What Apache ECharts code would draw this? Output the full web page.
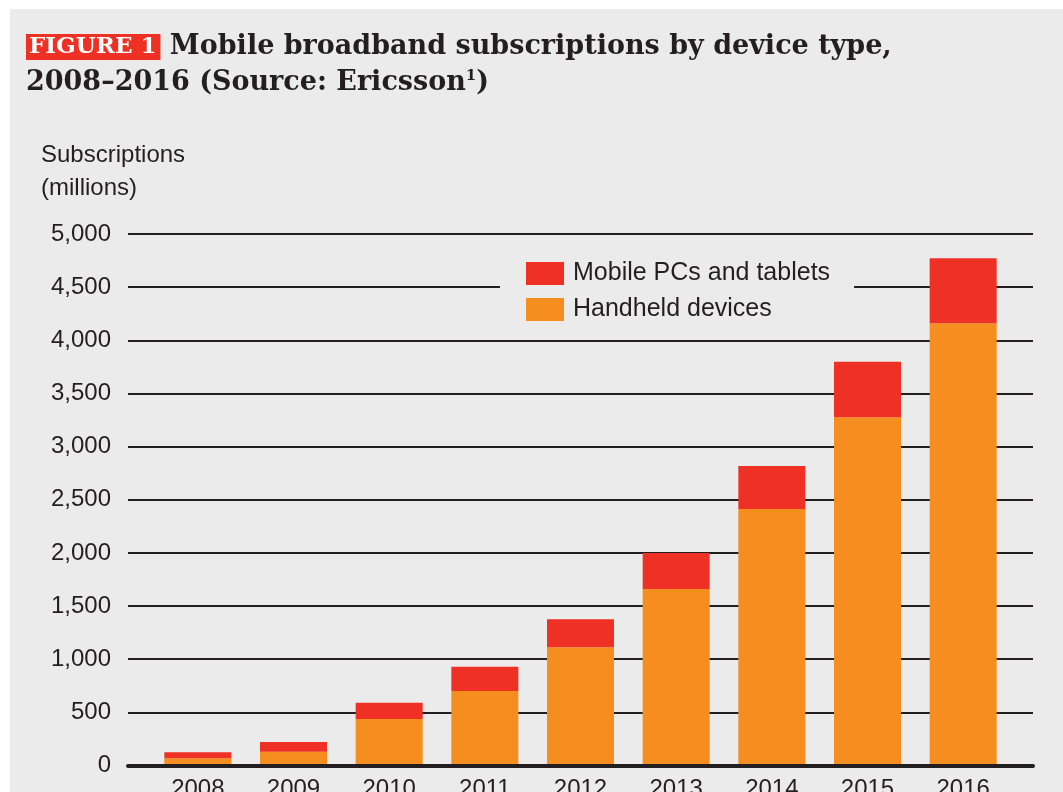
<!DOCTYPE html>
<html>
<head>
<meta charset="utf-8">
<script src="https://cdn.jsdelivr.net/npm/echarts@6/dist/echarts.min.js"></script>
<style>
  html, body { margin: 0; padding: 0; background: #ffffff; }
  #chart { position: absolute; left: 10px; top: 9px; width: 1053px; height: 783px; }
</style>
</head>
<body>
<div id="chart"></div>
<script>
// Mobile broadband subscriptions (millions), stacked by device type
const years = ['2008', '2009', '2010', '2011', '2012', '2013', '2014', '2015', '2016'];
const handheld = [68, 130, 437, 701, 1112, 1660, 2413, 3276, 4160];
const pcsTablets = [57, 91, 154, 228, 263, 339, 404, 523, 611];
const seriesNames = ['Mobile PCs and tablets', 'Handheld devices'];
const yMax = 5000;
const yStep = 500;

const INK = '#231f20';
const SANS = '"Liberation Sans", Arial, Helvetica, sans-serif';
const SLAB = '"DejaVu Serif", serif';

const chart = echarts.init(document.getElementById('chart'), null, { renderer: 'canvas' });

chart.setOption({
  backgroundColor: '#ebebeb',
  animation: false,
  title: [
    {
      left: 16,
      top: 20,
      padding: 0,
      text: '{tag|FIGURE 1} {main|Mobile broadband subscriptions by device type,}\n{main|2008\u20132016 (Source: Ericsson}{sup|1}{main|)}',
      textStyle: {
        fontFamily: SLAB,
        fontWeight: 'bold',
        fontSize: 27,
        color: INK,
        lineHeight: 36,
        rich: {
          tag: {
            fontFamily: SLAB,
            fontWeight: 'bold',
            fontSize: 23,
            color: '#ffffff',
            backgroundColor: '#ee3124',
            padding: [2, 4, 1, 3]
          },
          main: {
            fontFamily: SLAB,
            fontWeight: 'bold',
            fontSize: 27,
            color: INK
          },
          sup: {
            fontFamily: SLAB,
            fontWeight: 'bold',
            fontSize: 15,
            color: INK,
            padding: [0, 0, 14, 0]
          }
        }
      }
    },
    {
      left: 31,
      top: 130,
      padding: 0,
      text: 'Subscriptions\n(millions)',
      textStyle: {
        fontFamily: SANS,
        fontWeight: 'normal',
        fontSize: 24,
        lineHeight: 33,
        color: INK
      }
    }
  ],
  legend: {
    orient: 'vertical',
    left: 490,
    top: 239,
    padding: [13, 24, 10, 26],
    backgroundColor: '#ebebeb',
    itemWidth: 38,
    itemHeight: 23,
    itemGap: 11,
    icon: 'rect',
    data: seriesNames,
    textStyle: {
      fontFamily: SANS,
      fontSize: 25,
      lineHeight: 23,
      color: INK,
      padding: [0, 0, 0, 4]
    },
    z: 10
  },
  grid: [
    // full-width frame for the horizontal rules and baseline
    { left: 118, right: 30, top: 225, bottom: 26.5, outerBoundsMode: 'none', containLabel: false },
    // category band for the bars
    { left: 140, right: 52, top: 225, bottom: 26.5, outerBoundsMode: 'none', containLabel: false }
  ],
  xAxis: [
    {
      gridIndex: 0,
      type: 'value',
      min: 0,
      max: 1,
      z: 5,
      axisLine: { show: true, lineStyle: { color: INK, width: 4 } },
      axisTick: { show: false },
      axisLabel: { show: false },
      splitLine: { show: false }
    },
    {
      gridIndex: 1,
      type: 'category',
      data: years,
      axisLine: { show: false },
      axisTick: { show: false },
      axisLabel: {
        margin: 12,
        fontFamily: SANS,
        fontSize: 24,
        color: INK
      }
    }
  ],
  yAxis: [
    {
      gridIndex: 0,
      type: 'value',
      min: 0,
      max: yMax,
      interval: yStep,
      axisLine: { show: false },
      axisTick: { show: false },
      axisLabel: {
        margin: 17,
        fontFamily: SANS,
        fontSize: 24,
        color: INK,
        formatter: v => v.toLocaleString('en-US')
      },
      splitLine: { show: true, lineStyle: { color: INK, width: 2 } }
    },
    {
      gridIndex: 1,
      type: 'value',
      min: 0,
      max: yMax,
      interval: yStep,
      show: false,
      splitLine: { show: false }
    }
  ],
  series: [
    {
      name: seriesNames[1],
      type: 'bar',
      stack: 'total',
      xAxisIndex: 1,
      yAxisIndex: 1,
      barWidth: 67,
      itemStyle: { color: '#f68e1f' },
      data: handheld
    },
    {
      name: seriesNames[0],
      type: 'bar',
      stack: 'total',
      xAxisIndex: 1,
      yAxisIndex: 1,
      barWidth: 67,
      itemStyle: { color: '#ee3124' },
      data: pcsTablets
    }
  ]
});
</script>
</body>
</html>
